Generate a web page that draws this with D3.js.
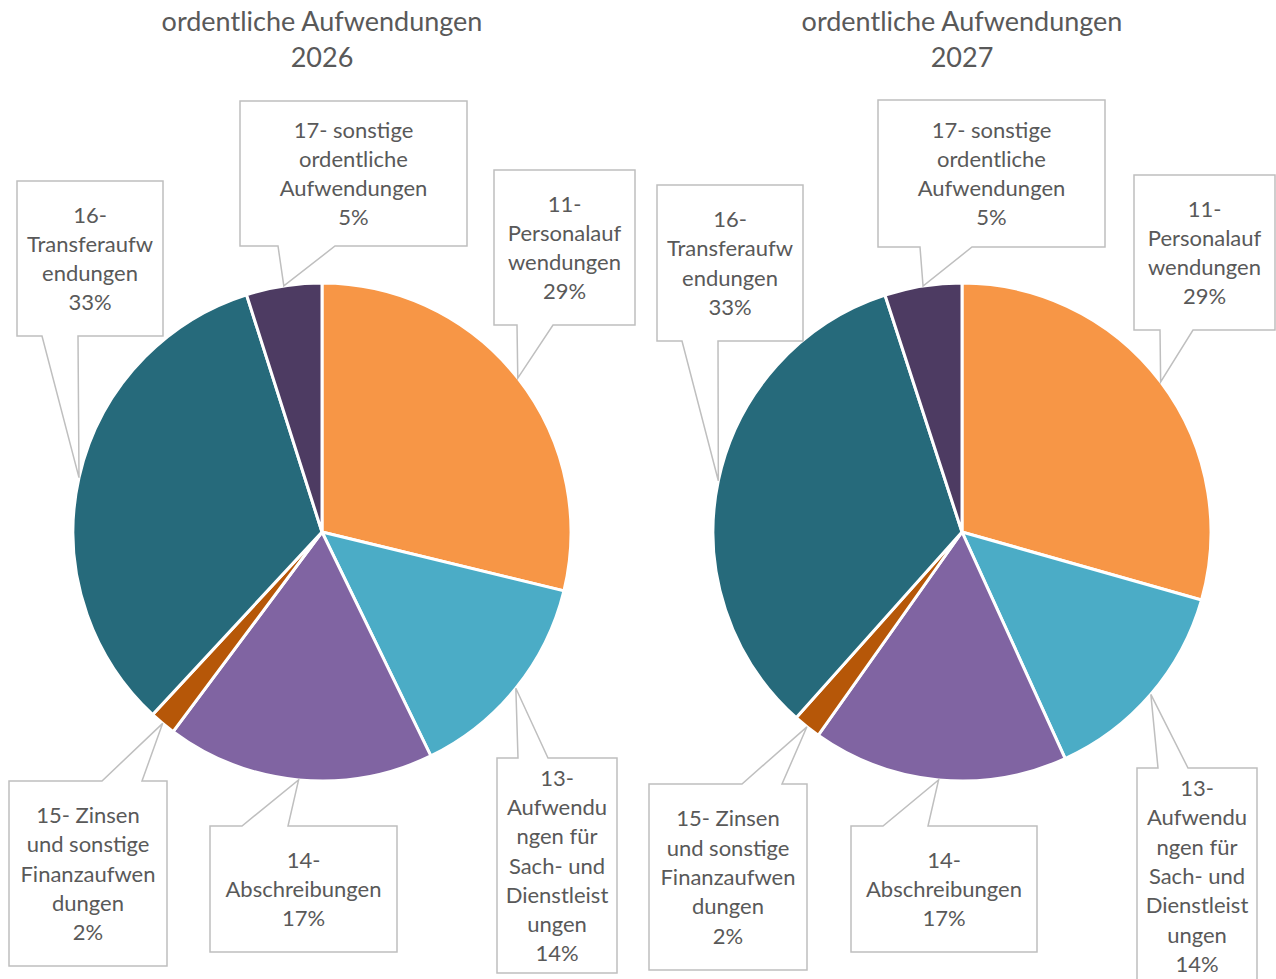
<!DOCTYPE html>
<html>

<head>
	<meta charset="utf-8">
	<script src="https://cdn.jsdelivr.net/npm/d3@7"></script>
	<style>
		body {
			margin: 0;
			background: #fff;
		}

		svg {
			display: block;
			font-family: Lato, "Open Sans", sans-serif;
		}

		.title {
			fill: #595959;
			font-size: 27px;
			text-anchor: middle;
		}

		.callout {
			fill: #fff;
			stroke: #bfbfbf;
			stroke-width: 1.5;
		}

		.label {
			fill: #595959;
			font-size: 22px;
			text-anchor: middle;
		}

		.slice {
			stroke: #fff;
			stroke-width: 3;
		}
	</style>
</head>

<body>
	<svg></svg>
	<script>

		// data (shares in %)
		var categories = [
			"11- Personalaufwendungen",
			"13- Aufwendungen für Sach- und Dienstleistungen",
			"14- Abschreibungen",
			"15- Zinsen und sonstige Finanzaufwendungen",
			"16- Transferaufwendungen",
			"17- sonstige ordentliche Aufwendungen"
		];
		var years = ["2026", "2027"];
		var values2026 = [28.8, 14.0, 17.4, 1.7, 33.2, 4.9];
		var values2027 = [29.4, 13.8, 16.6, 1.8, 33.4, 5.0];
		// label text as wrapped in the callouts
		var labelLines = [
			["11-", "Personalauf", "wendungen"],
			["13-", "Aufwendu", "ngen für", "Sach- und", "Dienstleist", "ungen"],
			["14-", "Abschreibungen"],
			["15- Zinsen", "und sonstige", "Finanzaufwen", "dungen"],
			["16-", "Transferaufw", "endungen"],
			["17- sonstige", "ordentliche", "Aufwendungen"]
		];
		var colors = ["#f79646", "#4bacc6", "#8064a2", "#b65708", "#266a7b", "#4d3b62"];

		var width = 1276;
		var height = 979;
		var radius = 249;
		var lineGap = 29.3;

		// callout boxes (layout only)
		var boxes2026 = [
			{ x: 494, y: 170, w: 141, h: 155, side: "bottom", b0: 517, b1: 553 },
			{ x: 497, y: 758, w: 120, h: 215, side: "top", b0: 518, b1: 548 },
			{ x: 210, y: 826, w: 187, h: 126, side: "top", b0: 242, b1: 288 },
			{ x: 9, y: 781, w: 158, h: 185, side: "top", b0: 102, b1: 142 },
			{ x: 17, y: 181, w: 146, h: 155, side: "bottom", b0: 42, b1: 78 },
			{ x: 240, y: 101, w: 227, h: 145, side: "bottom", b0: 278, b1: 335 }
		];
		var boxes2027 = [
			{ x: 1134, y: 175, w: 141, h: 155, side: "bottom", b0: 1160, b1: 1193 },
			{ x: 1137, y: 768, w: 120, h: 216, side: "top", b0: 1158, b1: 1188 },
			{ x: 851, y: 826, w: 186, h: 126, side: "top", b0: 883, b1: 928 },
			{ x: 649, y: 784, w: 158, h: 186, side: "top", b0: 742, b1: 782 },
			{ x: 657, y: 185, w: 146, h: 156, side: "bottom", b0: 682, b1: 718 },
			{ x: 878, y: 100, w: 227, h: 147, side: "bottom", b0: 920, b1: 972 }
		];

		var charts = [
			{ year: years[0], values: values2026, boxes: boxes2026, cx: 322, cy: 532 },
			{ year: years[1], values: values2027, boxes: boxes2027, cx: 962, cy: 532 }
		];

		var svg = d3.select("svg")
			.attr("width", width)
			.attr("height", height);

		var pie = d3.pie().sort(null);
		var arc = d3.arc().innerRadius(0).outerRadius(radius);
		var color = d3.scaleOrdinal().domain(categories).range(colors);

		function calloutPath(b, tip) {
			var p = d3.path();
			if (b.side == "bottom") {
				p.moveTo(b.x, b.y);
				p.lineTo(b.x + b.w, b.y);
				p.lineTo(b.x + b.w, b.y + b.h);
				p.lineTo(b.b1, b.y + b.h);
				p.lineTo(tip[0], tip[1]);
				p.lineTo(b.b0, b.y + b.h);
				p.lineTo(b.x, b.y + b.h);
			} else {
				p.moveTo(b.x, b.y);
				p.lineTo(b.b0, b.y);
				p.lineTo(tip[0], tip[1]);
				p.lineTo(b.b1, b.y);
				p.lineTo(b.x + b.w, b.y);
				p.lineTo(b.x + b.w, b.y + b.h);
				p.lineTo(b.x, b.y + b.h);
			}
			p.closePath();
			return p.toString();
		}

		charts.forEach(function (c) {
			var total = d3.sum(c.values);
			var arcs = pie(c.values);

			var title = svg.append("text")
				.attr("class", "title")
				.attr("x", c.cx)
				.attr("y", 31);
			title.append("tspan").attr("x", c.cx).text("ordentliche Aufwendungen");
			title.append("tspan").attr("x", c.cx).attr("dy", 36).text(c.year);

			var g = svg.append("g")
				.attr("transform", "translate(" + c.cx + "," + c.cy + ")");
			g.selectAll("path")
				.data(arcs)
				.enter()
				.append("path")
				.attr("class", "slice")
				.attr("d", arc)
				.attr("fill", (d, i) => color(categories[i]));

			// callouts pointing at the middle of each slice's rim
			arcs.forEach(function (d, i) {
				var a = (d.startAngle + d.endAngle) / 2;
				var tip = [c.cx + radius * Math.sin(a), c.cy - radius * Math.cos(a)];
				var b = c.boxes[i];
				svg.append("path")
					.attr("class", "callout")
					.attr("d", calloutPath(b, tip));

				var lines = labelLines[i].concat([Math.round(d.value / total * 100) + "%"]);
				var mid = b.y + b.h / 2;
				var first = mid - (lines.length - 1) / 2 * lineGap;
				svg.append("g")
					.selectAll("text")
					.data(lines)
					.enter()
					.append("text")
					.attr("class", "label")
					.attr("x", b.x + b.w / 2)
					.attr("y", (t, j) => first + j * lineGap + 8)
					.text(t => t);
			});
		});
	</script>
</body>

</html>
